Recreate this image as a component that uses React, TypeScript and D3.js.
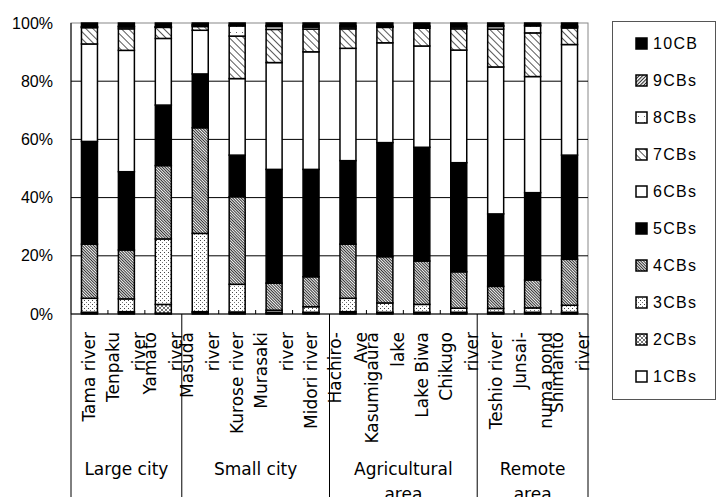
import React from "react";
import * as d3 from "d3";

// sites along the x axis (14 bars)
const categories = [
  "Tama river", "Tenpaku river", "Yamato river",
  "Masuda river", "Kurose river", "Murasaki river", "Midori river",
  "Hachiro-Ave", "Kasumigaura lake", "Lake Biwa", "Chikugo river",
  "Teshio river", "Junsai-numa pond", "Shimanto river",
];
// how the labels wrap in the original
const categoryLines = [
  ["Tama river"], ["Tenpaku", "river"], ["Yamato", "river"],
  ["Masuda", "river"], ["Kurose river"], ["Murasaki", "river"], ["Midori river"],
  ["Hachiro-", "Ave"], ["Kasumigaura", "lake"], ["Lake Biwa"], ["Chikugo", "river"],
  ["Teshio river"], ["Junsai-", "numa pond"], ["Shimanto", "river"],
];
const groups = ["Large city", "Small city", "Agricultural area", "Remote area"];
const groupLines = [["Large city"], ["Small city"], ["Agricultural", "area"], ["Remote", "area"]];
const groupSizes = [3, 4, 4, 3];

// composition (%) per congener group
const cb1 = [0.3, 0.4, 0.3, 0.5, 0.3, 0.3, 0.3, 0.3, 0.3, 0.3, 0.3, 0.3, 0.3, 0.3];
const cb2 = [0.3, 0.4, 3.0, 0.3, 0.4, 0.3, 0.3, 0.5, 0.3, 0.3, 0.3, 0.3, 0.3, 0.3];
const cb3 = [4.8, 4.4, 22.5, 26.9, 9.5, 0.7, 1.9, 4.6, 3.2, 2.7, 1.4, 1.3, 1.5, 2.4];
const cb4 = [18.6, 16.8, 25.2, 36.3, 30.1, 9.3, 10.3, 18.6, 15.9, 14.9, 12.5, 7.6, 9.6, 15.8];
const cb5 = [35.3, 26.9, 20.8, 18.5, 14.3, 39.1, 36.9, 28.7, 39.2, 39.1, 37.5, 24.9, 30.0, 35.8];
const cb6 = [33.5, 41.7, 22.9, 15.0, 26.3, 36.7, 40.4, 38.6, 34.3, 34.8, 38.7, 50.5, 39.9, 38.0];
const cb7 = [5.6, 7.4, 3.8, 1.3, 14.6, 11.4, 7.8, 6.7, 5.3, 6.1, 7.3, 13.0, 15.0, 5.7];
const cb8 = [0.2, 0.6, 0.1, 0.4, 3.5, 1.0, 0.7, 0.6, 0.2, 0.5, 0.6, 0.9, 2.4, 0.4];
const cb9 = [0.2, 0.3, 0.1, 0.3, 0.3, 0.3, 0.4, 0.4, 0.2, 0.3, 0.4, 0.3, 0.3, 0.3];
const cb10 = [1.2, 1.1, 1.3, 0.5, 0.7, 0.9, 1.0, 1.0, 1.1, 1.0, 1.0, 0.9, 0.7, 1.0];

const seriesNames = ["1CBs", "2CBs", "3CBs", "4CBs", "5CBs", "6CBs", "7CBs", "8CBs", "9CBs", "10CB"];
const seriesValues = [cb1, cb2, cb3, cb4, cb5, cb6, cb7, cb8, cb9, cb10];
const seriesFill = [
  "#fff", "url(#p2)", "url(#p3)", "url(#p4)", "#000",
  "#fff", "url(#p7)", "url(#p8)", "url(#p9)", "#000",
];
const yTicks = [0, 0.2, 0.4, 0.6, 0.8, 1];

const width = 717;
const height = 497;
const marginLeft = 71;
const marginRight = 129;
const marginTop = 23;
const plotBottom = 314;

const App: React.FC = () => {
  const rows = categories.map((c, i) => {
    const row: Record<string, number | string> = { cat: c };
    seriesNames.forEach((s, j) => (row[s] = seriesValues[j][i]));
    return row;
  });
  const stacked = d3
    .stack<any>()
    .keys(seriesNames)
    .offset(d3.stackOffsetExpand)(rows);

  const x = d3
    .scaleBand<string>()
    .domain(categories)
    .range([marginLeft, width - marginRight])
    .paddingInner(0.567)
    .paddingOuter(0.2835);
  const y = d3.scaleLinear().domain([0, 1]).range([plotBottom, marginTop]);
  const fmt = d3.format(".0%");

  // boundaries between groups
  const bounds: number[] = [0];
  groupSizes.forEach((n) => bounds.push(bounds[bounds.length - 1] + n));
  const left = x.range()[0];
  const right = x.range()[1];
  const edge = (k: number) => left + (right - left) * (k / categories.length);

  const catFont = "'DejaVu Sans', sans-serif";
  const numFont = "'Liberation Sans', Arial, sans-serif";

  return (
    <svg
      width={width}
      height={height}
      style={{ position: "absolute", left: 0, top: 0, background: "#fff" }}
    >
      <defs>
        <pattern id="p2" width="4" height="4" patternUnits="userSpaceOnUse">
          <rect width="4" height="4" fill="#fff" />
          <path d="M0,0L4,4M4,0L0,4" stroke="#555" strokeWidth="0.8" />
        </pattern>
        <pattern id="p3" width="4" height="4" patternUnits="userSpaceOnUse">
          <rect width="4" height="4" fill="#fff" />
          <rect x="0" y="0" width="1" height="1" fill="#444" />
          <rect x="2" y="2" width="1" height="1" fill="#777" />
        </pattern>
        <pattern id="p4" width="2" height="2" patternUnits="userSpaceOnUse" patternTransform="rotate(-45)">
          <rect width="2" height="2" fill="#fff" />
          <line x1="0.5" y1="0" x2="0.5" y2="2" stroke="#333" strokeWidth="1.1" />
        </pattern>
        <pattern id="p7" width="5" height="5" patternUnits="userSpaceOnUse" patternTransform="rotate(-45)">
          <rect width="5" height="5" fill="#fff" />
          <line x1="0" y1="0" x2="0" y2="5" stroke="#111" strokeWidth="1.4" />
        </pattern>
        <pattern id="p8" width="6" height="6" patternUnits="userSpaceOnUse">
          <rect width="6" height="6" fill="#fff" />
          <rect x="2" y="2" width="1" height="1" fill="#666" />
        </pattern>
        <pattern id="p9" width="2.5" height="2.5" patternUnits="userSpaceOnUse" patternTransform="rotate(45)">
          <rect width="2.5" height="2.5" fill="#fff" />
          <line x1="0.5" y1="0" x2="0.5" y2="2.5" stroke="#222" strokeWidth="1.1" />
        </pattern>
      </defs>

      {/* plot frame */}
      <rect
        x={left}
        y={marginTop}
        width={right - left}
        height={plotBottom - marginTop}
        fill="none"
        stroke="#888"
        strokeWidth={1}
      />
      {/* gridlines */}
      {yTicks.slice(1, -1).map((t) => (
        <line key={t} x1={left} x2={right} y1={y(t)} y2={y(t)} stroke="#000" strokeWidth={1} />
      ))}
      {yTicks.map((t) => (
        <text
          key={"yl" + t}
          x={53}
          y={y(t)}
          textAnchor="end"
          dominantBaseline="central"
          fontFamily={numFont}
          fontSize={16}
        >
          {fmt(t)}
        </text>
      ))}

      {/* bars */}
      {stacked.map((layer, j) => (
        <g key={seriesNames[j]} fill={seriesFill[j]} stroke="#000" strokeWidth={1.5}>
          {layer.map((d, i) => (
            <rect
              key={i}
              x={x(categories[i])}
              width={x.bandwidth()}
              y={y(d[1])}
              height={Math.max(0, y(d[0]) - y(d[1]))}
            />
          ))}
        </g>
      ))}

      {/* axes */}
      <line x1={left} x2={left} y1={marginTop} y2={plotBottom} stroke="#000" strokeWidth={1} />
      <line x1={left} x2={right} y1={plotBottom} y2={plotBottom} stroke="#000" strokeWidth={1} />
      {d3.range(1, categories.length).filter((k) => !bounds.includes(k)).map((k) => (
        <line key={"tk" + k} x1={edge(k)} x2={edge(k)} y1={plotBottom - 4} y2={plotBottom} stroke="#000" />
      ))}
      {bounds.map((k) => (
        <line key={"gb" + k} x1={edge(k)} x2={edge(k)} y1={plotBottom} y2={height} stroke="#000" />
      ))}

      {/* category labels */}
      {categoryLines.map((lines, i) => {
        const cx = (x(categories[i]) ?? 0) + x.bandwidth() / 2;
        return lines.map((ln, li) => {
          const off = (li - (lines.length - 1) / 2) * 26;
          const tx = cx + off;
          return (
            <text
              key={i + "-" + li}
              transform={`translate(${tx},332) rotate(-90)`}
              textAnchor="end"
              dominantBaseline="central"
              fontFamily={catFont}
              fontSize={17}
            >
              {ln}
            </text>
          );
        });
      })}

      {/* group labels */}
      {groups.map((g, gi) => {
        const cx = (edge(bounds[gi]) + edge(bounds[gi + 1])) / 2;
        return groupLines[gi].map((ln, li) => (
          <text
            key={g + li}
            x={cx}
            y={475 + li * 25}
            textAnchor="middle"
            fontFamily={catFont}
            fontSize={17}
          >
            {ln}
          </text>
        ));
      })}

      {/* legend */}
      <rect x={612.5} y={21.5} width={103} height={378} fill="#fff" stroke="#555" strokeWidth={1} />
      {seriesNames
        .slice()
        .reverse()
        .map((s, k) => {
          const j = seriesNames.length - 1 - k;
          const cy = 43.5 + k * 37;
          return (
            <g key={"lg" + s}>
              <rect
                x={636}
                y={cy - 5.5}
                width={11}
                height={11}
                fill={seriesFill[j]}
                stroke="#000"
                strokeWidth={1.5}
              />
              <text
                x={653}
                y={cy}
                dominantBaseline="central"
                fontFamily={numFont}
                fontSize={16}
                letterSpacing={1.3}
              >
                {s}
              </text>
            </g>
          );
        })}
    </svg>
  );
};

export default App;
